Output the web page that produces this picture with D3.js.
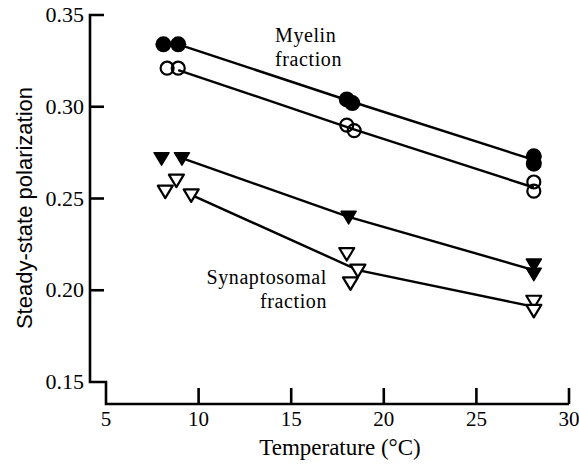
<!DOCTYPE html>
<html>
<head>
<meta charset="utf-8">
<script src="https://cdn.jsdelivr.net/npm/d3@7"></script>
<style>
  body { margin: 0; background: #fff; }
  text { fill: #000; }
</style>
</head>
<body>
<script>
var w = 579; // page width
var h = 464; // page height

// x ticks and y ticks
var xTicks = [5, 10, 15, 20, 25, 30];
var yTicks = [0.15, 0.20, 0.25, 0.30, 0.35];

// measured points [temperature, polarization]
var myelinFilled = [[8.1, 0.334], [8.9, 0.334], [18.0, 0.304], [18.3, 0.302], [28.1, 0.273], [28.1, 0.269]];
var myelinOpen = [[8.3, 0.321], [8.9, 0.321], [18.0, 0.290], [18.4, 0.287], [28.1, 0.259], [28.1, 0.254]];
var synFilled = [[8.0, 0.272], [9.1, 0.272], [18.1, 0.240], [28.1, 0.214], [28.1, 0.209]];
var synOpen = [[8.2, 0.254], [8.8, 0.260], [9.6, 0.252], [18.0, 0.220], [18.6, 0.211], [18.2, 0.204], [28.1, 0.194], [28.1, 0.189]];

// fitted lines through each set
var myelinFilledLine = [[8.9, 0.334], [18.2, 0.303], [28.1, 0.271]];
var myelinOpenLine = [[8.9, 0.320], [18.3, 0.288], [28.1, 0.256]];
var synFilledLine = [[9.1, 0.272], [18.1, 0.240], [28.1, 0.211]];
var synOpenLine = [[9.6, 0.252], [18.6, 0.211], [28.1, 0.191]];

var svg = d3.select("body").append("svg").attr("width", w).attr("height", h);

var x = d3.scaleLinear().domain([5, 30]).range([106, 569]);
var y = d3.scaleLinear().domain([0.15, 0.35]).range([382, 15]);

var axisY0 = 90;   // left axis line
var axisX0 = 404;  // bottom axis line
var serif = "'Liberation Serif', 'Times New Roman', serif";

// broken axis frame
svg.append("path")
  .attr("d", "M" + (axisY0 + 14) + "," + y(0.35) + "H" + axisY0 + "V" + y(0.15) +
             "H" + x(5) + "V" + axisX0 + "H" + x(30))
  .attr("fill", "none").attr("stroke", "#000").attr("stroke-width", 2.6)
  .attr("stroke-linejoin", "miter");

// y ticks
svg.selectAll(".ytick").data(yTicks.slice(1, 4)).enter().append("line")
  .attr("x1", axisY0).attr("x2", axisY0 + 14)
  .attr("y1", function (d) { return y(d); }).attr("y2", function (d) { return y(d); })
  .attr("stroke", "#000").attr("stroke-width", 2.6);

svg.selectAll(".ylab").data(yTicks).enter().append("text")
  .attr("x", axisY0 - 6).attr("y", function (d) { return y(d); })
  .attr("dy", "0.32em").attr("text-anchor", "end")
  .style("font-family", serif).style("font-size", "22px")
  .text(function (d) { return d.toFixed(2); });

// x ticks
svg.selectAll(".xtick").data(xTicks.slice(1)).enter().append("line")
  .attr("x1", function (d) { return x(d); }).attr("x2", function (d) { return x(d); })
  .attr("y1", axisX0).attr("y2", axisX0 - 16)
  .attr("stroke", "#000").attr("stroke-width", 2.6);

svg.selectAll(".xlab").data(xTicks).enter().append("text")
  .attr("x", function (d) { return x(d); }).attr("y", 426)
  .attr("text-anchor", "middle")
  .style("font-family", serif).style("font-size", "21px")
  .text(function (d) { return d; });

// axis titles
svg.append("text").attr("x", 340).attr("y", 455).attr("text-anchor", "middle")
  .style("font-family", serif).style("font-size", "23px")
  .text("Temperature (°C)");

svg.append("text").attr("transform", "translate(32,208) rotate(-90)")
  .attr("text-anchor", "middle")
  .style("font-family", "'Liberation Sans', sans-serif").style("font-size", "22px")
  .text("Steady-state polarization");

// lines
var line = d3.line().x(function (d) { return x(d[0]); }).y(function (d) { return y(d[1]); });
[myelinFilledLine, myelinOpenLine, synFilledLine, synOpenLine].forEach(function (l) {
  svg.append("path").attr("d", line(l)).attr("fill", "none")
    .attr("stroke", "#000").attr("stroke-width", 2.4);
});

// circles
svg.selectAll(".mf").data(myelinFilled).enter().append("circle")
  .attr("cx", function (d) { return x(d[0]); }).attr("cy", function (d) { return y(d[1]); })
  .attr("r", 8).attr("fill", "#000");

svg.selectAll(".mo").data(myelinOpen).enter().append("circle")
  .attr("cx", function (d) { return x(d[0]); }).attr("cy", function (d) { return y(d[1]); })
  .attr("r", 6.5).attr("fill", "none").attr("stroke", "#000").attr("stroke-width", 2.2);

// down triangles
var tri = "M-7.5,-5.5L7.5,-5.5L0,7Z";
svg.selectAll(".sf").data(synFilled).enter().append("path")
  .attr("transform", function (d) { return "translate(" + x(d[0]) + "," + y(d[1]) + ")"; })
  .attr("d", tri).attr("fill", "#000").attr("stroke", "#000").attr("stroke-width", 1.5)
  .attr("stroke-linejoin", "round");

svg.selectAll(".so").data(synOpen).enter().append("path")
  .attr("transform", function (d) { return "translate(" + x(d[0]) + "," + y(d[1]) + ")"; })
  .attr("d", tri).attr("fill", "#fff").attr("stroke", "#000").attr("stroke-width", 2.2)
  .attr("stroke-linejoin", "round");

// labels (two lines each, kept apart)
var lab = svg.append("g").style("font-family", serif).style("font-size", "20px")
  .style("letter-spacing", "0.6px");
lab.append("text").attr("x", 275).attr("y", 42).text("Myelin");
lab.append("text").attr("x", 275).attr("y", 66).text("fraction");
lab.append("text").attr("x", 327).attr("y", 284).attr("text-anchor", "end").text("Synaptosomal");
lab.append("text").attr("x", 327).attr("y", 308).attr("text-anchor", "end").text("fraction");
</script>
</body>
</html>
